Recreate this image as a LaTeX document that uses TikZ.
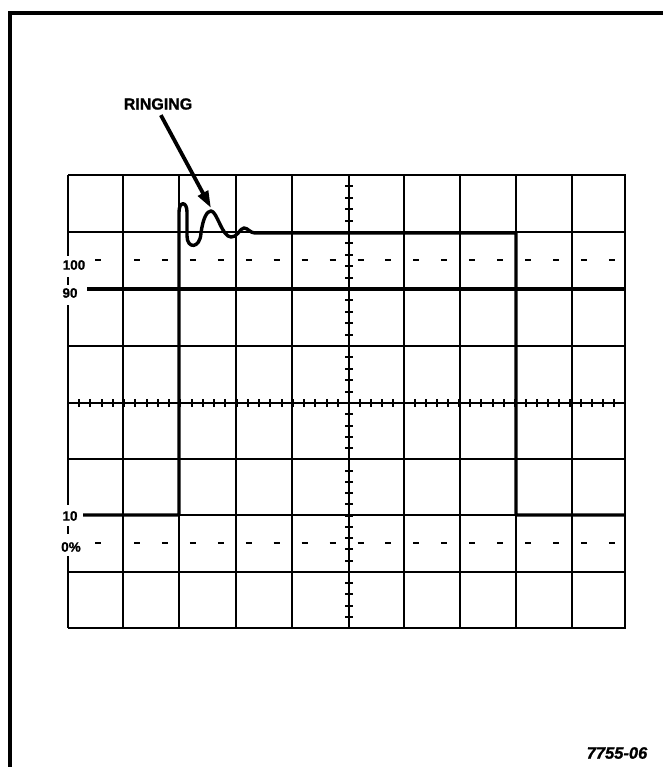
\documentclass[tikz,border=0pt]{standalone}
\usepackage{fontspec}
\setsansfont{Liberation Sans}
\newfontfamily\heavysans[FakeBold=1.2]{Liberation Sans}
\usetikzlibrary{arrows.meta}
\tikzset{
  frameline/.style={line width=3.2pt},
  gridline/.style={line width=2.2pt},
  axistick/.style={line width=2pt},
  refline/.style={line width=3.4pt},
  dashmark/.style={line width=2.8pt},
  traceline/.style={line width=3.4pt,line join=round},
  callout/.style={-{Triangle[length=17pt,width=11pt]},line width=3.8pt},
  scalelabel/.style={font=\heavysans\bfseries\fontsize{13.5}{15}\selectfont,inner sep=0pt},
  calloutlabel/.style={font=\heavysans\bfseries\fontsize{16}{18}\selectfont,inner sep=0pt},
  figlabel/.style={font=\heavysans\bfseries\itshape\fontsize{16.5}{18}\selectfont,inner sep=0pt}
}
\begin{document}
\begin{tikzpicture}[x=1pt,y=-1pt]
\useasboundingbox (0,0) rectangle (663,767);
% frame, cut off at right and bottom
\draw[frameline] (10,767) -- (10,13) -- (663,13);
% graticule
\draw[gridline] (68,175) -- (625,175) -- (625,628) -- (68,628);
\draw[gridline] (68,175) -- (68,256) (68,277) -- (68,285) (68,305) -- (68,505)
  (68,526) -- (68,534) (68,556) -- (68,628);
\foreach \x in {123,179,236,292,349,404,460,516,572}
  \draw[gridline] (\x,175) -- (\x,628);
\foreach \y in {232,346,403,459,572}
  \draw[gridline] (68,\y) -- (625,\y);
\draw[gridline] (83,515) -- (625,515);
% minor ticks on the centre axes
\foreach \k in {1,...,24} {
  \draw[axistick] ({68+11.24*\k},399) -- ++(0,8);
  \draw[axistick] ({349+11.04*\k},399) -- ++(0,8);
}
\foreach \k in {1,...,19} {
  \draw[axistick] (345,{175+11.4*\k}) -- ++(8,0);
  \draw[axistick] (345,{403+11.25*\k}) -- ++(8,0);
}
% 100% and 0% levels
\foreach \y in {260,543} {
  \draw[dashmark] (95,\y) -- ++(6,0);
  \foreach \k in {0,...,17}
    \draw[dashmark] ({134+27.94*\k},\y) -- ++(6,0);
}
% 90% level
\draw[refline] (87,289) -- (625,289);
% pulse with ringing
\draw[traceline] (83,515) -- (179,515) -- (179,212)
  .. controls (179,201) and (187,201) .. (187,212) -- (187,236)
  .. controls (187,249) and (200,249) .. (201,233)
  .. controls (203,218) and (207,211) .. (211,211)
  .. controls (217,211) and (222,237) .. (231,237)
  .. controls (237,238) and (240,228) .. (244,228)
  .. controls (248,228) and (250,233) .. (255,233)
  -- (516,233) -- (516,515) -- (625,515);
% labels
\node[calloutlabel] (ringing) at (158,104) {RINGING};
\coordinate (ringpeak) at (211,208);
\draw[callout,shorten <=6pt] (ringing.south) -- (ringpeak);
\node[scalelabel] (lbl100) at (74,265) {100};
\node[scalelabel] (lbl90) at (70,293) {90};
\node[scalelabel] (lbl10) at (70,516) {10};
\node[scalelabel] (lbl0) at (71,547) {0\%};
\node[figlabel] (fignum) at (617,753) {7755-06};
\end{tikzpicture}
\end{document}
